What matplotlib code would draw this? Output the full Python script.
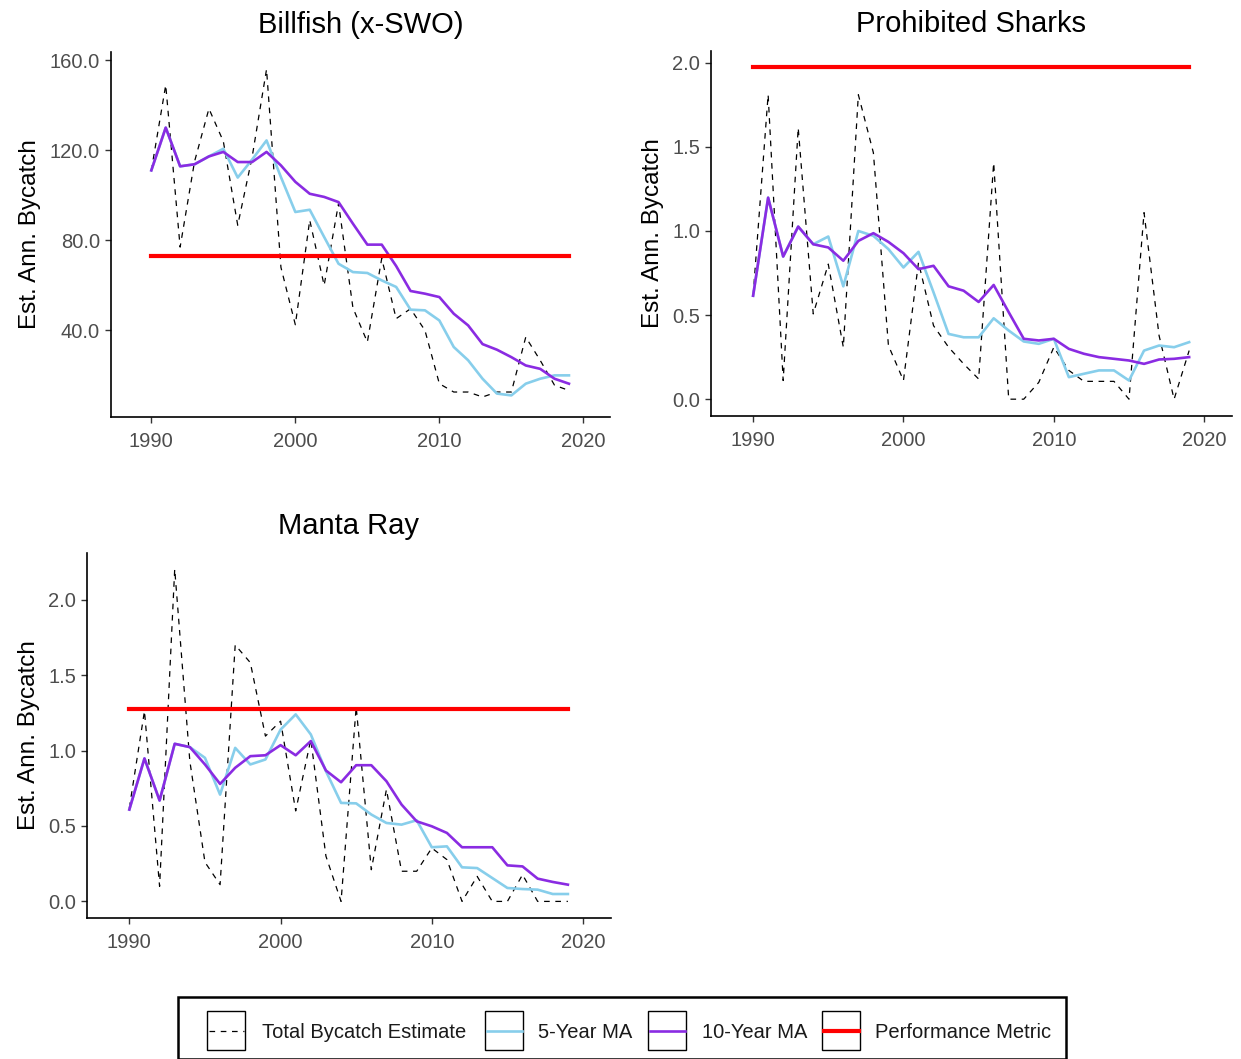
import matplotlib
matplotlib.use("Agg")
import matplotlib.pyplot as plt
from matplotlib.patches import Rectangle
from matplotlib.lines import Line2D
from matplotlib.ticker import FormatStrFormatter

plt.rcParams['font.family'] = ['Liberation Sans', 'DejaVu Sans']

#data
years = list(range(1990, 2020))

billfish_total = [111, 149, 77, 115, 138.5, 124, 86.7, 117, 156, 68,
                  42.5, 89, 60, 96.4, 50, 34.8, 72, 45.2, 49.6, 40,
                  16.3, 12.6, 12.6, 10.4, 12.6, 12.6, 37, 26.7, 15.6, 13.3]
billfish_ma5 = [111.1, 130.1, 112.9, 113.8, 117.3, 120.7, 107.9, 115.9, 124.4, 108.1,
                92.6, 93.6, 81.5, 69.6, 65.9, 65.5, 62.2, 59.3, 49.2, 48.9,
                44.4, 32.6, 26.7, 18.5, 11.9, 11.1, 16.3, 18.5, 20.0, 20.0]
billfish_ma10 = [111.1, 130.1, 112.9, 113.8, 117.3, 119.3, 114.8, 114.8, 119.3, 113.3,
                 106.0, 100.7, 99.3, 97.0, 87.4, 78.1, 78.1, 68.6, 57.5, 56.3,
                 54.8, 47.4, 42.2, 33.9, 31.4, 28.1, 24.4, 22.9, 18.5, 16.3]
billfish_metric = 73.0

sharks_total = [0.615, 1.81, 0.111, 1.613, 0.507, 0.803, 0.309, 1.81, 1.465, 0.319,
                0.111, 0.813, 0.437, 0.309, 0.21, 0.12, 1.405, 0.0, 0.0, 0.1,
                0.309, 0.171, 0.106, 0.106, 0.106, 0.0, 1.109, 0.378, 0.0, 0.289]
sharks_ma5 = [0.615, 1.198, 0.848, 1.026, 0.921, 0.967, 0.671, 1.0, 0.971, 0.892,
              0.783, 0.876, 0.635, 0.388, 0.368, 0.368, 0.481, 0.408, 0.343, 0.329,
              0.359, 0.131, 0.151, 0.171, 0.171, 0.111, 0.289, 0.319, 0.309, 0.339]
sharks_ma10 = [0.615, 1.198, 0.848, 1.026, 0.921, 0.902, 0.823, 0.941, 0.987, 0.935,
               0.868, 0.773, 0.793, 0.671, 0.645, 0.578, 0.679, 0.517, 0.359, 0.349,
               0.359, 0.299, 0.27, 0.25, 0.24, 0.23, 0.21, 0.236, 0.24, 0.25]
sharks_metric = 1.975

manta_total = [0.62, 1.262, 0.1, 2.203, 0.93, 0.26, 0.111, 1.7, 1.583, 1.096,
               1.195, 0.6, 1.074, 0.3, 0.0, 1.29, 0.21, 0.742, 0.2, 0.2,
               0.354, 0.277, 0.0, 0.166, 0.0, 0.0, 0.177, 0.0, 0.0, 0.0]
manta_ma5 = [0.609, 0.948, 0.669, 1.045, 1.023, 0.952, 0.708, 1.018, 0.908, 0.941,
             1.139, 1.24, 1.107, 0.863, 0.653, 0.65, 0.576, 0.52, 0.509, 0.538,
             0.359, 0.365, 0.226, 0.221, 0.155, 0.089, 0.082, 0.078, 0.049, 0.049]
manta_ma10 = [0.609, 0.948, 0.669, 1.045, 1.023, 0.908, 0.779, 0.886, 0.963, 0.969,
              1.036, 0.969, 1.063, 0.868, 0.79, 0.903, 0.903, 0.797, 0.642, 0.531,
              0.498, 0.454, 0.359, 0.359, 0.359, 0.239, 0.232, 0.151, 0.129, 0.111]
manta_metric = 1.277

xticks = [1990, 2000, 2010, 2020]
legend_labels = ["Total Bycatch Estimate", "5-Year MA", "10-Year MA", "Performance Metric"]

c_total = "black"
c_ma5 = "#87CEEB"
c_ma10 = "#8A2BE2"
c_metric = "#FF0000"

W, H = 1241, 1059
fig = plt.figure(figsize=(W / 100, H / 100), dpi=100)


def px_axes(left, top, right, bottom):
    return fig.add_axes([left / W, 1 - bottom / H, (right - left) / W, (bottom - top) / H])


def panel(ax, title, total, ma5, ma10, metric, ylim, yticks):
    ax.plot(years, total, color=c_total, lw=0.9, dashes=(4.5, 4.5))
    ax.plot(years, ma5, color=c_ma5, lw=1.9)
    ax.plot(years, ma10, color=c_ma10, lw=1.9)
    ax.plot([years[0], years[-1]], [metric, metric], color=c_metric, lw=3.0)
    ax.set_xlim(1987.2, 2021.85)
    ax.set_ylim(*ylim)
    ax.set_xticks(xticks)
    ax.set_yticks(yticks)
    ax.yaxis.set_major_formatter(FormatStrFormatter('%.1f'))
    ax.set_title(title, fontsize=21, pad=14)
    ax.set_ylabel("Est. Ann. Bycatch", fontsize=17.5, labelpad=6)
    for s in ['top', 'right']:
        ax.spines[s].set_visible(False)
    for s in ['left', 'bottom']:
        ax.spines[s].set_linewidth(1.2)
    ax.tick_params(length=4, width=1.0, color="#333333", labelcolor="#4D4D4D",
                   labelsize=14.5)
    ax.tick_params(axis='x', pad=7)
    ax.tick_params(axis='y', pad=4)


ax1 = px_axes(111, 52, 610, 417)
panel(ax1, "Billfish (x-SWO)", billfish_total, billfish_ma5, billfish_ma10,
      billfish_metric, (1.5, 163.7), [40, 80, 120, 160])

ax2 = px_axes(711, 51, 1232, 416)
panel(ax2, "Prohibited Sharks", sharks_total, sharks_ma5, sharks_ma10,
      sharks_metric, (-0.1, 2.07), [0.0, 0.5, 1.0, 1.5, 2.0])

ax3 = px_axes(87, 553, 611, 918)
panel(ax3, "Manta Ray", manta_total, manta_ma5, manta_ma10,
      manta_metric, (-0.11, 2.31), [0.0, 0.5, 1.0, 1.5, 2.0])

#legend drawn by hand in pixel space
lg = fig.add_axes([0, 0, 1, 1])
lg.set_xlim(0, W)
lg.set_ylim(H, 0)
lg.axis('off')
lg.add_patch(Rectangle((178, 997), 888, 62, fill=False, ec="black", lw=1.8))

key_x = [207, 485, 648, 822]
text_x = [262, 538, 702, 875]
styles = [dict(color=c_total, lw=0.9, dashes=(4.5, 4.5)),
          dict(color=c_ma5, lw=1.9),
          dict(color=c_ma10, lw=1.9),
          dict(color=c_metric, lw=3.0)]
for kx, tx, lab, st in zip(key_x, text_x, legend_labels, styles):
    lg.add_patch(Rectangle((kx, 1011), 38, 39, fill=False, ec="black", lw=1.0))
    lg.add_line(Line2D([kx + 1.5, kx + 36.5], [1031, 1031], **st))
    lg.text(tx, 1033, lab, fontsize=14.5, color="#1a1a1a", va='center', ha='left')

fig.savefig("out.png", dpi=100)
